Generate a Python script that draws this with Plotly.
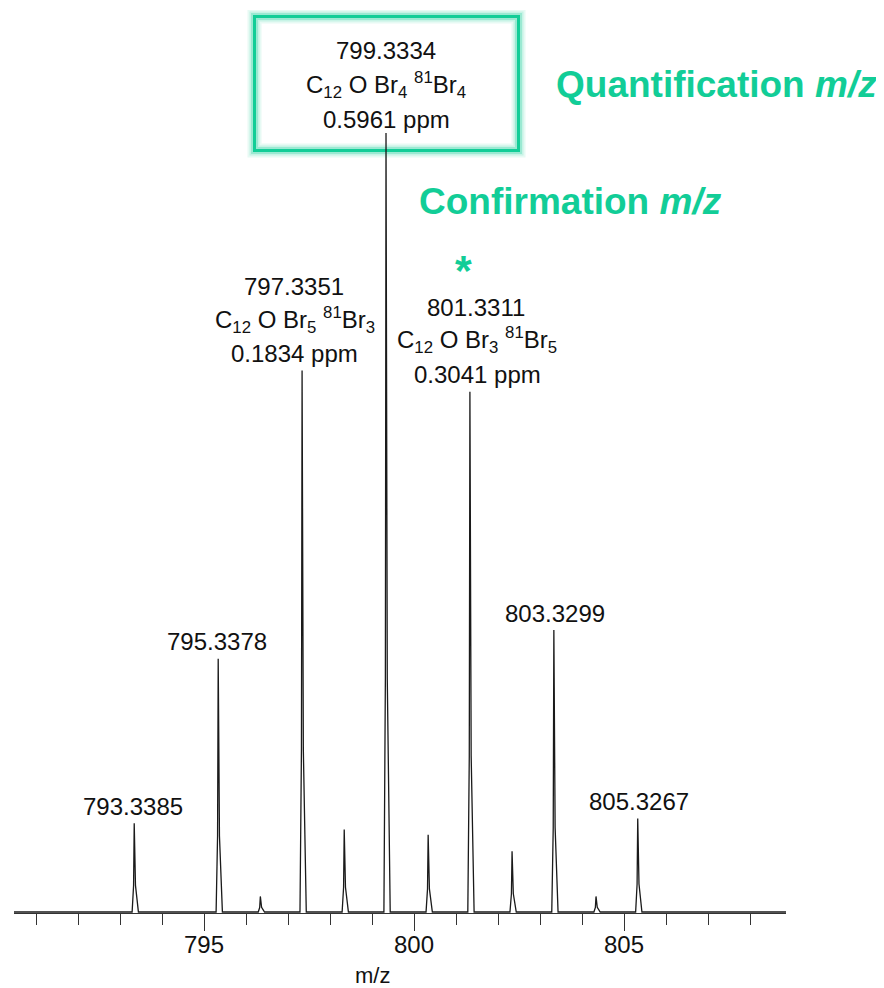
import plotly.graph_objects as go

# ---- data ----
peak_mz = [793.3385, 795.3378, 796.3412, 797.3351, 798.3385, 799.3334,
           800.3368, 801.3311, 802.3345, 803.3299, 804.3333, 805.3267]
peak_int = [11.4, 32.5, 2.0, 69.5, 10.6, 100.0, 9.9, 66.8, 7.8, 36.2, 2.0, 12.0]

labels_mz = ["793.3385", "795.3378", "797.3351", "799.3334", "801.3311", "803.3299", "805.3267"]
formula_797 = "C<sub>12</sub> O Br<sub>5</sub> <sup>81</sup>Br<sub>3</sub>"
formula_799 = "C<sub>12</sub> O Br<sub>4</sub> <sup>81</sup>Br<sub>4</sub>"
formula_801 = "C<sub>12</sub> O Br<sub>3</sub> <sup>81</sup>Br<sub>5</sub>"
ppm_797, ppm_799, ppm_801 = "0.1834 ppm", "0.5961 ppm", "0.3041 ppm"
tick_vals = [795, 800, 805]

X_MIN, X_MAX = 790.476, 808.857

# ---- layout geometry (page pixels; page body has 8px offset) ----
OFF = 8
W, H = 884 - OFF, 988 - OFF
PLOT_L, PLOT_R, PLOT_T, PLOT_B = 14, 786, 10, 913
L = PLOT_L - OFF
T = PLOT_T - OFF
R = W - (PLOT_R - OFF)
B = H - (PLOT_B - OFF)
PX_PER_X = (PLOT_R - PLOT_L) / (X_MAX - X_MIN)
BASE_PIX = 912.0        # page pixel of intensity 0
PX_PER_Y = 7.79
Y_MIN = -(PLOT_B - BASE_PIX) / PX_PER_Y
Y_MAX = (BASE_PIX - PLOT_T) / PX_PER_Y


def dx(px):
    return X_MIN + (px - PLOT_L) / PX_PER_X


def dy(py):
    return (BASE_PIX - py) / PX_PER_Y


# ---- spectrum profile from peak list ----
xs, ys = [X_MIN], [0.0]
for m, h in zip(peak_mz, peak_int):
    xs += [m - 0.05, m - 0.015, m, m + 0.03, m + 0.1]
    ys += [0.0, 0.3 * h, h, 0.3 * h, 0.0]
xs.append(X_MAX)
ys.append(0.0)

GREEN = "#12cd97"
FONT = "Liberation Sans, Arial, sans-serif"

fig = go.Figure()
fig.add_trace(go.Scatter(x=xs, y=ys, mode="lines",
                         line=dict(color="#1a1a1a", width=1.3),
                         hoverinfo="skip", showlegend=False))

# highlighted box around quantification ion
bx0, bx1, by0, by1 = 254.5, 518.5, 16.5, 150.5
fig.add_shape(type="rect", xref="x", yref="y", x0=dx(bx0), x1=dx(bx1), y0=dy(by1), y1=dy(by0),
              line=dict(width=0), fillcolor="white", layer="below")
for w, a in [(14, 0.10), (10, 0.15), (7, 0.25)]:
    fig.add_shape(type="rect", xref="x", yref="y", x0=dx(bx0), x1=dx(bx1), y0=dy(by1), y1=dy(by0),
                  line=dict(width=w, color=f"rgba(18,205,151,{a})"), layer="below")
fig.add_shape(type="rect", xref="x", yref="y", x0=dx(bx0), x1=dx(bx1), y0=dy(by1), y1=dy(by0),
              line=dict(width=3, color=GREEN), layer="below")

ann = []


def text(t, px, py, size=24, color="#111", bold=False, xanchor="center"):
    ann.append(dict(x=dx(px), y=dy(py), xref="x", yref="y", text=t, showarrow=False,
                    xanchor=xanchor, yanchor="middle",
                    font=dict(family=FONT, size=size, color=color,
                              weight="bold" if bold else "normal")))


# box labels
text(labels_mz[3], 386, 50)
text(formula_799, 386, 85)
text(ppm_799, 386, 119)
# 797
text(labels_mz[2], 294, 286)
text(formula_797, 295, 320)
text(ppm_797, 294, 353)
# 801
text(labels_mz[4], 476, 307)
text(formula_801, 477, 340)
text(ppm_801, 477, 374)
# other peaks
text(labels_mz[1], 217, 641)
text(labels_mz[5], 555, 613)
text(labels_mz[0], 133, 806)
text(labels_mz[6], 639, 801)

# green callouts
text("Quantification <i>m/z</i>", 554, 84, size=37, color=GREEN, bold=True, xanchor="left")
text("Confirmation <i>m/z</i>", 417, 201, size=37, color=GREEN, bold=True, xanchor="left")
text("*", 463, 270, size=43, color=GREEN, bold=True)

# axis title (below the plot area, paper-referenced)
ann.append(dict(x=dx(372), y=0, xref="x", yref="paper", yshift=-(975 - PLOT_B),
                text="m/z", showarrow=False, xanchor="center", yanchor="middle",
                font=dict(family=FONT, size=22, color="#111")))

fig.update_layout(
    width=W, height=H,
    margin=dict(l=L, r=R, t=T, b=B, pad=0),
    paper_bgcolor="white", plot_bgcolor="white",
    annotations=ann,
    xaxis=dict(range=[X_MIN, X_MAX], showgrid=False, zeroline=False,
               showline=True, linecolor="#333", linewidth=1.2,
               tickmode="array", tickvals=tick_vals, ticktext=[str(v) for v in tick_vals],
               ticks="outside", ticklen=17, tickwidth=1.2, tickcolor="#333",
               ticklabelstandoff=-7,
               tickfont=dict(family=FONT, size=24, color="#111"),
               minor=dict(dtick=1, tick0=795, ticks="outside", ticklen=11,
                          tickwidth=1.2, tickcolor="#333", showgrid=False)),
    yaxis=dict(range=[Y_MIN, Y_MAX], visible=False, showgrid=False, zeroline=False),
    showlegend=False,
)

fig.write_html("out.html")
